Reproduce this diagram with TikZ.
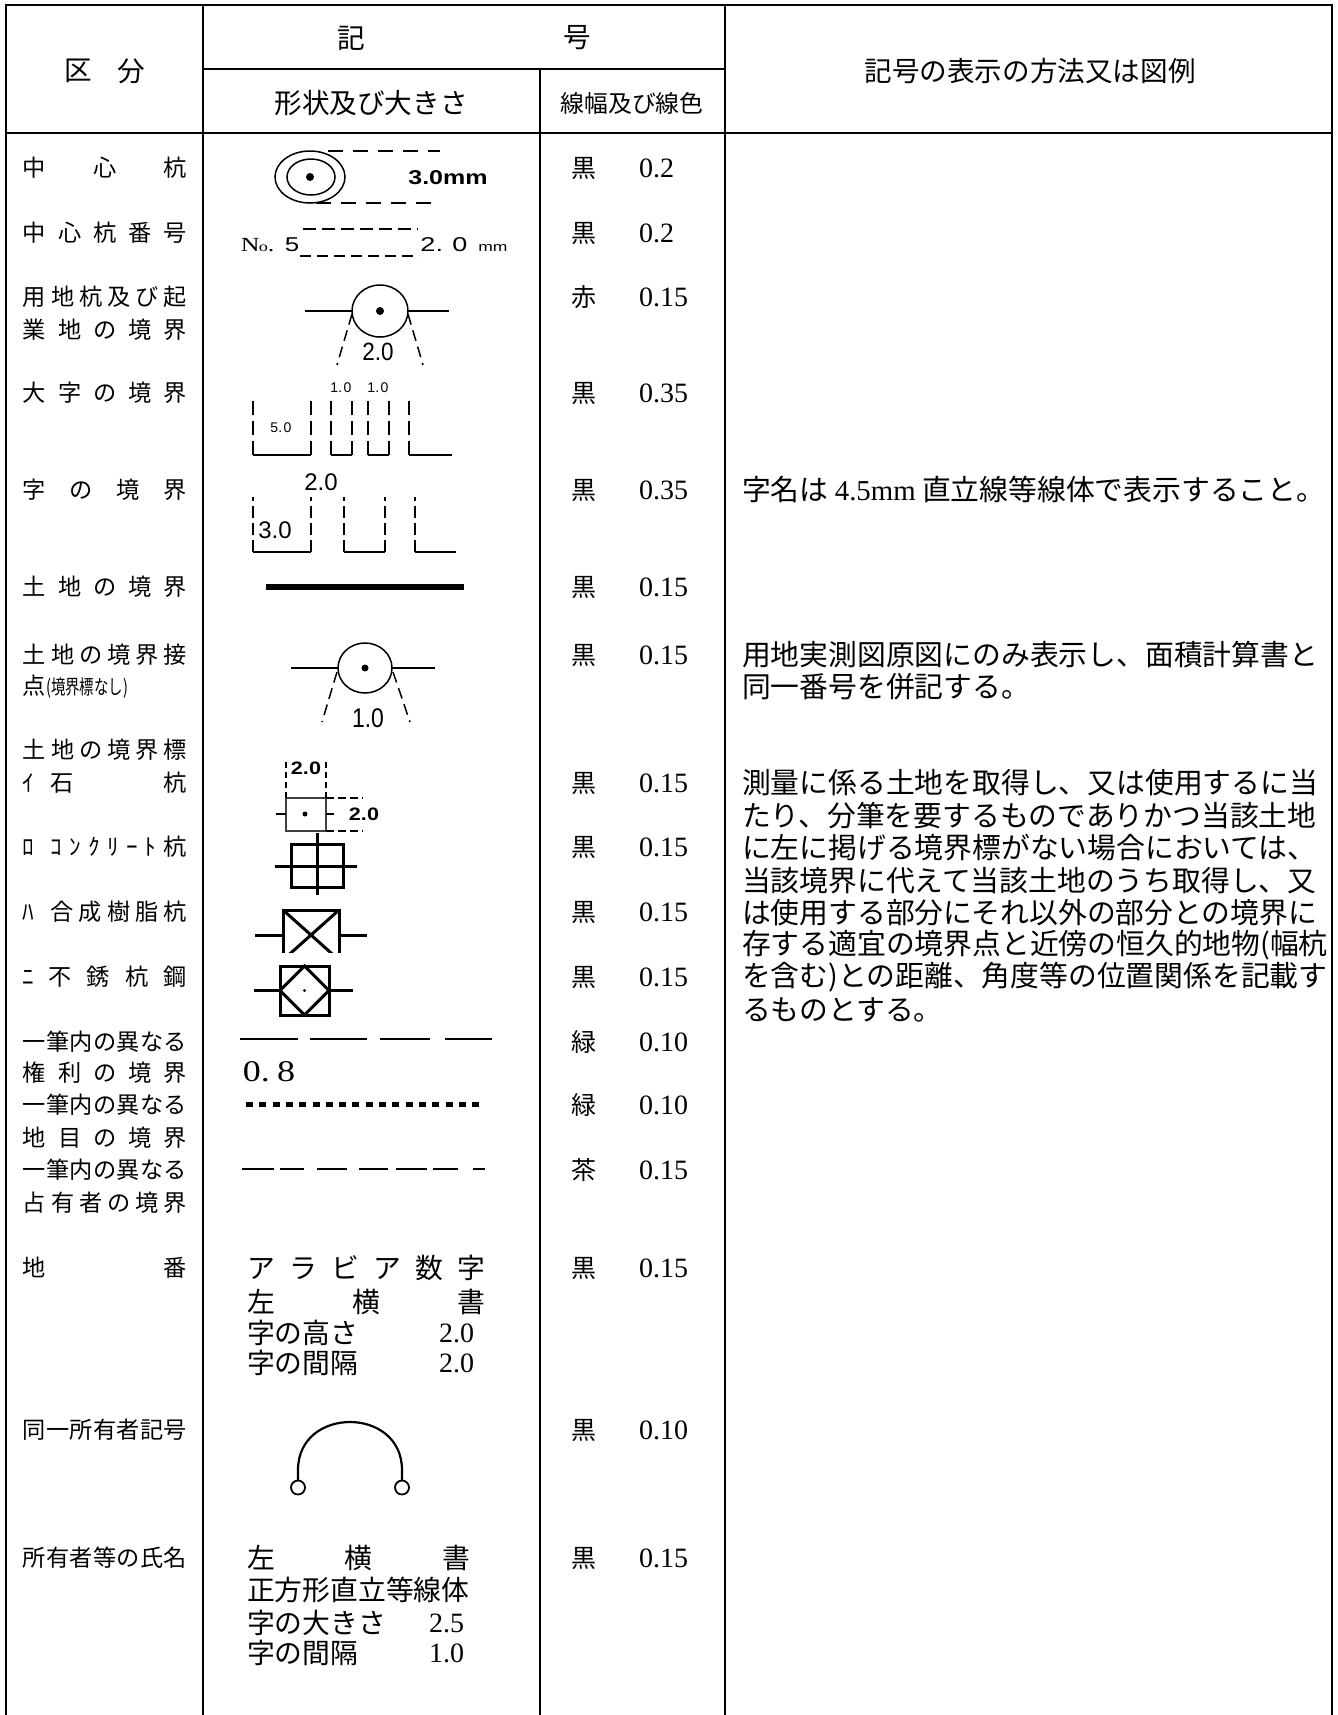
\documentclass[tikz,border=0pt]{standalone}
\usepackage{fontspec}
\setmainfont{Liberation Serif}
\newfontfamily\jp{Noto Sans CJK JP}
\newfontfamily\ar{Liberation Sans}
\newcommand\fA{\jp\fontsize{11.6pt}{12pt}\selectfont}
\newcommand\fH{\jp\fontsize{13.8pt}{14pt}\selectfont}
\newcommand\fHs{\jp\fontsize{11.9pt}{12pt}\selectfont}
\newcommand\fC{\jp\fontsize{12.5pt}{13pt}\selectfont}
\newcommand\fN{\rmfamily\fontsize{14pt}{14pt}\selectfont}
\newcommand\fB{\jp\fontsize{13.9pt}{14pt}\selectfont}
\newcommand\fR{\jp\fontsize{14.4pt}{15pt}\selectfont}
\newcommand\fS[1]{\ar\fontsize{#1}{#1}\selectfont}
\tikzset{
  frame/.style={line width=1.1pt},
  rule/.style={line width=0.9pt},
  sym/.style={line width=0.75pt},
  symb/.style={line width=1.5pt},
  txt/.style={inner sep=0pt, outer sep=0pt},
  lab/.style={txt, anchor=west, font=\fA},
  colr/.style={txt, font=\fC},
  valn/.style={txt, anchor=west, font=\fN},
  body/.style={txt, anchor=west, font=\fB},
  rtxt/.style={txt, anchor=west, font=\fR},
  dimdash/.style={sym, dash pattern=on 5.5pt off 3pt},
}
\newcommand\rowlab[3]{\node[lab] (#1) at (23,#2) {\hbox to 82pt{#3}};}
\newcommand\colval[4]{\node[colr] (#1c) at (584,#2) {#3};\node[valn] (#1v) at (639,#2) {#4};}
\begin{document}
\begin{tikzpicture}[x=0.5pt,y=-0.5pt]
\useasboundingbox (0,0) rectangle (1338,1715);
% ---------- table ----------
\draw[frame] (6,1715) -- (6,5) -- (1332,5) -- (1332,1715);
\draw[rule] (203,5) -- (203,1715);
\draw[rule] (725,5) -- (725,1715);
\draw[rule] (540,69) -- (540,1715);
\draw[rule] (203,69) -- (725,69);
\draw[rule] (6,133) -- (1332,133);
% ---------- header ----------
\node[txt, font=\fH] (hku) at (78,71) {区};
\node[txt, font=\fH] (hbun) at (131,71) {分};
\node[txt, font=\fH] (hki) at (351,38) {記};
\node[txt, font=\fH] (hgo) at (577,38) {号};
\node[txt, font=\fH] (hshape) at (371,103) {形状及び大きさ};
\node[txt, font=\fHs] (hline) at (632,103) {線幅及び線色};
\node[txt, font=\fH] (hmethod) at (1030,71) {記号の表示の方法又は図例};
% ---------- column 1 ----------
\rowlab{r1}{168}{中\hfill 心\hfill 杭}
\rowlab{r2}{233}{中\hfill 心\hfill 杭\hfill 番\hfill 号}
\rowlab{r3a}{297}{用\hfill 地\hfill 杭\hfill 及\hfill び\hfill 起}
\rowlab{r3b}{330}{業\hfill 地\hfill の\hfill 境\hfill 界}
\rowlab{r4}{393}{大\hfill 字\hfill の\hfill 境\hfill 界}
\rowlab{r5}{490}{字\hfill の\hfill 境\hfill 界}
\rowlab{r6}{587}{土\hfill 地\hfill の\hfill 境\hfill 界}
\rowlab{r7a}{655}{土\hfill 地\hfill の\hfill 境\hfill 界\hfill 接}
\node[lab] (r7b) at (23,687) {点{\fontsize{10pt}{10pt}\selectfont\scalebox{0.72}[1]{(境界標なし)}}};
\rowlab{r8a}{750}{土\hfill 地\hfill の\hfill 境\hfill 界\hfill 標}
\rowlab{r8b}{783}{ｲ\hspace{8pt}石\hfill 杭}
\rowlab{r9}{847}{ﾛ\hspace{8pt}\hbox to 53pt{ｺ\hfill ﾝ\hfill ｸ\hfill ﾘ\hfill ｰ\hfill ﾄ}\hfill 杭}
\rowlab{r10}{912}{ﾊ\hspace{8pt}合\hfill 成\hfill 樹\hfill 脂\hfill 杭}
\rowlab{r11}{977}{ﾆ\hspace{7pt}不\hfill 銹\hfill 杭\hfill 鋼}
\rowlab{r12a}{1042}{一\hfill 筆\hfill 内\hfill の\hfill 異\hfill な\hfill る}
\rowlab{r12b}{1073}{権\hfill 利\hfill の\hfill 境\hfill 界}
\rowlab{r13a}{1105}{一\hfill 筆\hfill 内\hfill の\hfill 異\hfill な\hfill る}
\rowlab{r13b}{1138}{地\hfill 目\hfill の\hfill 境\hfill 界}
\rowlab{r14a}{1170}{一\hfill 筆\hfill 内\hfill の\hfill 異\hfill な\hfill る}
\rowlab{r14b}{1203}{占\hfill 有\hfill 者\hfill の\hfill 境\hfill 界}
\rowlab{r15}{1268}{地\hfill 番}
\rowlab{r16}{1430}{同\hfill 一\hfill 所\hfill 有\hfill 者\hfill 記\hfill 号}
\rowlab{r17}{1558}{所\hfill 有\hfill 者\hfill 等\hfill の\hfill 氏\hfill 名}
% ---------- column 3 ----------
\colval{k1}{168}{黒}{0.2}
\colval{k2}{233}{黒}{0.2}
\colval{k3}{297}{赤}{0.15}
\colval{k4}{393}{黒}{0.35}
\colval{k5}{490}{黒}{0.35}
\colval{k6}{587}{黒}{0.15}
\colval{k7}{655}{黒}{0.15}
\colval{k8}{783}{黒}{0.15}
\colval{k9}{847}{黒}{0.15}
\colval{k10}{912}{黒}{0.15}
\colval{k11}{977}{黒}{0.15}
\colval{k12}{1042}{緑}{0.10}
\colval{k13}{1105}{緑}{0.10}
\colval{k14}{1170}{茶}{0.15}
\colval{k15}{1268}{黒}{0.15}
\colval{k16}{1430}{黒}{0.10}
\colval{k17}{1558}{黒}{0.15}
% ---------- column 2 symbols ----------
% 中心杭
\draw[sym] (310,177) ellipse [x radius=35, y radius=26];
\draw[sym] (311,177) ellipse [x radius=24, y radius=18];
\fill (310,177) circle [radius=4];
\draw[sym, dash pattern=on 7.5pt off 5pt] (328,151) -- (440,151);
\draw[sym, dash pattern=on 7.5pt off 5pt] (316,203) -- (440,203);
\node[txt, font={\fS{10pt}\bfseries}] (t30) at (448,178) {\scalebox{1.25}[1]{3.0mm}};
% 中心杭番号
\node[txt] (tno) at (270,245) {\scalebox{1.3}[1]{\rmfamily\fontsize{10pt}{10pt}\selectfont N\kern-0.3pt{\fontsize{7pt}{7pt}\selectfont o}.\hspace{4pt}{\ar 5}}};
\node[txt] (t20mm) at (464,245) {\scalebox{1.35}[1]{\fS{10pt}2.\hspace{3.5pt}0\hspace{4pt}{\fontsize{6.5pt}{6.5pt}\selectfont mm}}};
\draw[sym, dash pattern=on 6.5pt off 3pt] (303,229) -- (418,229);
\draw[sym, dash pattern=on 5.5pt off 3pt] (300,256) -- (419,256);
% 用地杭
\draw[sym] (380,311) ellipse [x radius=28, y radius=26];
\fill (380,311) circle [radius=4];
\draw[sym] (305,311) -- (352,311);
\draw[sym] (408,311) -- (449,311);
\draw[dimdash] (352,314) -- (337,365);
\draw[dimdash] (408,314) -- (423,365);
\node[txt] (t20a) at (378,352) {\fS{12.5pt}\scalebox{0.9}[1]{2.0}};
% 大字の境界
\foreach \x in {253,311,331,352,368,389,409}
  \draw[sym, dash pattern=on 7pt off 3pt] (\x,455) -- (\x,398);
\draw[sym] (253,455) -- (311,455);
\draw[sym] (331,455) -- (352,455);
\draw[sym] (368,455) -- (389,455);
\draw[sym] (409,455) -- (452,455);
\node[txt] (t10a) at (341,388) {\fS{7pt}1.\kern0.8pt 0};
\node[txt] (t10b) at (378,388) {\fS{7pt}1.\kern0.8pt 0};
\node[txt] (t50) at (281,428) {\fS{7pt}5.\kern0.8pt 0};
% 字の境界
\foreach \x in {253,311,344,385,415}
  \draw[sym, dash pattern=on 6pt off 2.5pt] (\x,552) -- (\x,497);
\draw[sym] (253,552) -- (311,552);
\draw[sym] (344,552) -- (385,552);
\draw[sym] (415,552) -- (456,552);
\node[txt] (t20b) at (321,482) {\fS{12pt}2.0};
\node[txt] (t30b) at (275,530) {\fS{12pt}3.0};
% 土地の境界
\draw[line width=2.6pt] (266,587) -- (464,587);
% 土地の境界接点
\draw[sym] (365,668) ellipse [x radius=27, y radius=25];
\fill (365,668) circle [radius=3.5];
\draw[sym] (291,668) -- (338,668);
\draw[sym] (392,668) -- (435,668);
\draw[dimdash] (337,672) -- (322,722);
\draw[dimdash] (393,672) -- (410,722);
\node[txt] (t10c) at (368,718) {\fS{13.5pt}\scalebox{0.85}[1]{1.0}};
% イ 石杭
\draw[line width=0.6pt, black!75] (286,798) rectangle (326,831);
\fill (305,814) circle [radius=2.5];
\draw[sym] (276,814) -- (286,814);
\draw[sym] (326,814) -- (334,814);
\draw[sym, dash pattern=on 3pt off 2pt] (286,798) -- (286,762);
\draw[sym, dash pattern=on 3pt off 2pt] (326,798) -- (326,762);
\draw[sym, dash pattern=on 4pt off 2pt] (326,798) -- (363,798);
\draw[sym, dash pattern=on 4pt off 2pt] (326,831) -- (363,831);
\node[txt] (t20c) at (306,768) {\fS{9pt}\bfseries\scalebox{1.2}[1]{2.0}};
\node[txt] (t20d) at (364,814) {\fS{9pt}\bfseries\scalebox{1.2}[1]{2.0}};
% ロ コンクリート杭
\draw[symb] (291,844) rectangle (343,887);
\draw[symb] (317,833) -- (317,895);
\draw[symb] (275,866) -- (357,866);
% ハ 合成樹脂杭
\begin{scope}
  \clip (240,900) rectangle (380,952);
  \draw[symb] (283,962) -- (283,910) -- (339,910) -- (339,962);
  \draw[symb] (283,910) -- (339,960);
  \draw[symb] (339,910) -- (283,960);
\end{scope}
\draw[symb] (255,935) -- (283,935);
\draw[symb] (339,935) -- (367,935);
% ニ 不銹杭鋼
\draw[symb] (280,966) rectangle (329,1015);
\draw[symb] (304.5,966) -- (329,990.5) -- (304.5,1015) -- (280,990.5) -- cycle;
\draw[symb] (254,990.5) -- (280,990.5);
\draw[symb] (329,990.5) -- (353,990.5);
\fill (304.5,990.5) circle [radius=1.6];
% 一筆内の異なる権利の境界
\foreach \a/\b in {240/298,310/367,380/430,445/492}
  \draw[line width=1.1pt] (\a,1039) -- (\b,1039);
\node[txt] (t08) at (269,1072) {\rmfamily\fontsize{15pt}{15pt}\selectfont\scalebox{1.2}[1]{0.\hspace{3pt}8}};
% 一筆内の異なる地目の境界
\foreach \i in {0,...,17}
  \fill (246+13.3*\i,1101.5) rectangle ++(7,5);
% 一筆内の異なる占有者の境界
\foreach \a/\b in {242/274,280/304,317/347,359/388,396/427,433/458,473/485}
  \draw[line width=1.3pt] (\a,1169) -- (\b,1169);
% 地番
\node[body] (d1) at (247,1268) {\hbox to 119pt{ア\hfill ラ\hfill ビ\hfill ア\hfill 数\hfill 字}};
\node[body] (d2) at (247,1302) {\hbox to 119pt{左\hfill 横\hfill 書}};
\node[body] (d3) at (247,1333) {字の高さ};
\node[valn] (d3v) at (439,1333) {2.0};
\node[body] (d4) at (247,1363) {字の間隔};
\node[valn] (d4v) at (439,1363) {2.0};
% 同一所有者記号
\draw[line width=1.1pt] (298,1480) -- (298,1470) .. controls (298,1406) and (402,1406) .. (402,1470) -- (402,1480);
\draw[line width=0.9pt] (298,1487.5) circle [radius=7];
\draw[line width=0.9pt] (402,1487.5) circle [radius=7];
% 所有者等の氏名
\node[body] (o1) at (247,1558) {\hbox to 111.5pt{左\hfill 横\hfill 書}};
\node[body] (o2) at (247,1590) {正方形直立等線体};
\node[body] (o3) at (247,1623) {字の大きさ};
\node[valn] (o3v) at (429,1623) {2.5};
\node[body] (o4) at (247,1653) {字の間隔};
\node[valn] (o4v) at (429,1653) {1.0};
% ---------- column 4 ----------
\node[rtxt] (m5) at (742,490) {字名は {\rmfamily 4.5mm} 直立線等線体で表示すること。};
\node[rtxt] (m7a) at (742,655) {用地実測図原図にのみ表示し、面積計算書と};
\node[rtxt] (m7b) at (742,687) {同一番号を併記する。};
\node[rtxt] (p1) at (742,783) {測量に係る土地を取得し、又は使用するに当};
\node[rtxt] (p2) at (742,815.4) {たり、分筆を要するものでありかつ当該土地};
\node[rtxt] (p3) at (742,847.8) {に左に掲げる境界標がない場合においては、};
\node[rtxt] (p4) at (742,880.2) {当該境界に代えて当該土地のうち取得し、又};
\node[rtxt] (p5) at (742,912.6) {は使用する部分にそれ以外の部分との境界に};
\node[rtxt] (p6) at (742,945) {存する適宜の境界点と近傍の恒久的地物(幅杭};
\node[rtxt] (p7) at (742,977.4) {を含む)との距離、角度等の位置関係を記載す};
\node[rtxt] (p8) at (742,1009.8) {るものとする。};
\end{tikzpicture}
\end{document}
